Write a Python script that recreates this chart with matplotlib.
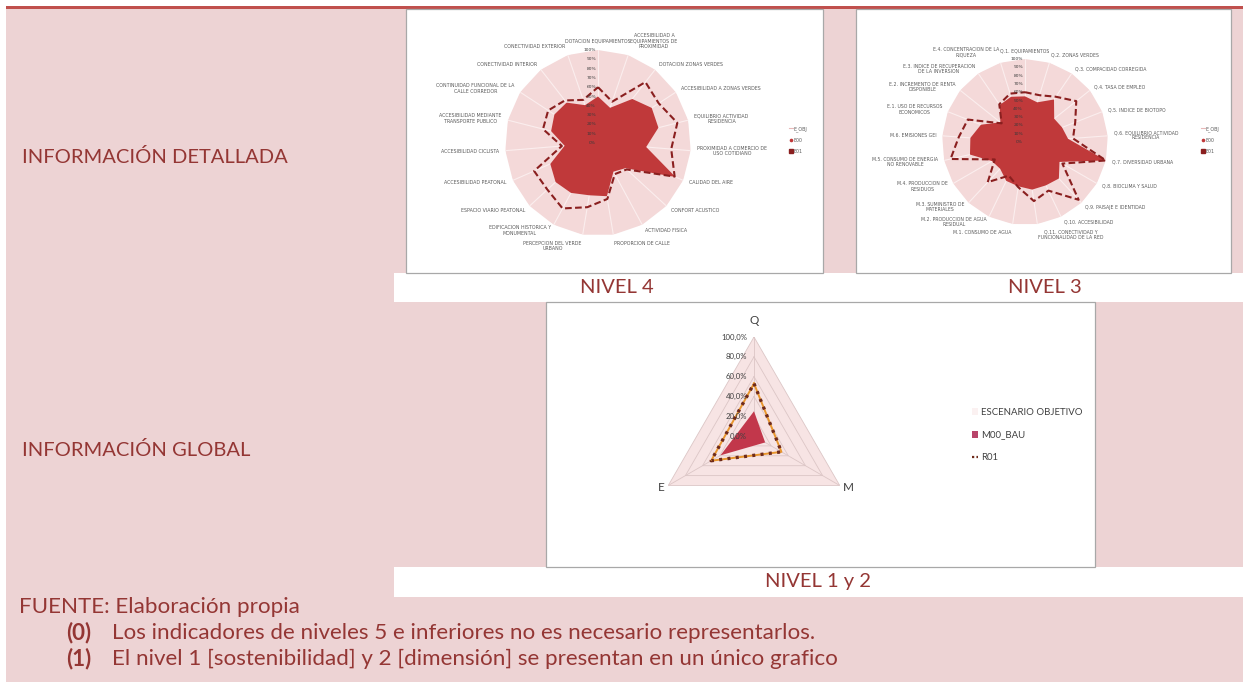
import matplotlib
matplotlib.use('Agg')
import matplotlib.pyplot as plt
import numpy as np
from matplotlib.patches import Rectangle, Patch
from matplotlib.lines import Line2D

# ---------------- data ----------------
cats_n4 = [
    "DOTACION EQUIPAMIENTOS",
    "ACCESIBILIDAD A\nEQUIPAMIENTOS DE\nPROXIMIDAD",
    "DOTACION ZONAS VERDES",
    "ACCESIBILIDAD A ZONAS VERDES",
    "EQUILIBRIO ACTIVIDAD\nRESIDENCIA",
    "PROXIMIDAD A COMERCIO DE\nUSO COTIDIANO",
    "CALIDAD DEL AIRE",
    "CONFORT ACUSTICO",
    "ACTIVIDAD FISICA",
    "PROPORCION DE CALLE",
    "PERCEPCION DEL VERDE\nURBANO",
    "EDIFICACION HISTORICA Y\nMONUMENTAL",
    "ESPACIO VIARIO PEATONAL",
    "ACCESIBILIDAD PEATONAL",
    "ACCESIBILIDAD CICLISTA",
    "ACCESIBILIDAD MEDIANTE\nTRANSPORTE PUBLICO",
    "CONTINUIDAD FUNCIONAL DE LA\nCALLE CORREDOR",
    "CONECTIVIDAD INTERIOR",
    "CONECTIVIDAD EXTERIOR",
]
obj_n4 = [100] * 19
e00_n4 = [50, 40, 60, 69, 67, 52, 91, 40, 35, 58, 57, 61, 62, 56, 36, 52, 56, 55, 43]
e01_n4 = [60, 47, 83, 78, 88, 79, 90, 42, 38, 61, 70, 80, 74, 75, 39, 61, 64, 58, 49]

cats_n3 = [
    "Q.1. EQUIPAMIENTOS",
    "Q.2. ZONAS VERDES",
    "Q.3. COMPACIDAD CORREGIDA",
    "Q.4. TASA DE EMPLEO",
    "Q.5. INDICE DE BIOTOPO",
    "Q.6. EQUILIBRIO ACTIVIDAD\nRESIDENCIA",
    "Q.7. DIVERSIDAD URBANA",
    "Q.8. BIOCLIMA Y SALUD",
    "Q.9. PAISAJE E IDENTIDAD",
    "Q.10. ACCESIBILIDAD",
    "Q.11. CONECTIVIDAD Y\nFUNCIONALIDAD DE LA RED",
    "M.1. CONSUMO DE AGUA",
    "M.2. PRODUCCION DE AGUA\nRESIDUAL",
    "M.3. SUMINISTRO DE\nMATERIALES",
    "M.4. PRODUCCION DE\nRESIDUOS",
    "M.5. CONSUMO DE ENERGIA\nNO RENOVABLE",
    "M.6. EMISIONES GEI",
    "E.1. USO DE RECURSOS\nECONOMICOS",
    "E.2. INCREMENTO DE RENTA\nDISPONIBLE",
    "E.3. INDICE DE RECUPERACION\nDE LA INVERSION",
    "E.4. CONCENTRACION DE LA\nRIQUEZA",
]
obj_n3 = [100] * 21
e00_n3 = [55, 50, 62, 45, 48, 52, 100, 48, 60, 58, 58, 54, 52, 44, 46, 68, 66, 57, 38, 54, 57]
e01_n3 = [60, 59, 66, 79, 65, 58, 100, 52, 95, 65, 72, 55, 45, 66, 42, 92, 80, 74, 36, 55, 61]

cats_g = ["Q", "M", "E"]
obj_g = [100, 100, 100]
m00_g = [25, 13, 39]
r01_g = [53, 32, 50]

radial_n = [0, 10, 20, 30, 40, 50, 60, 70, 80, 90, 100]
radial_g = [0, 20, 40, 60, 80, 100]

series_n = ["E_OBJ", "E00", "E01"]
series_g = ["ESCENARIO OBJETIVO", "M00_BAU", "R01"]

# ---------------- style ----------------
W, H, DPI = 1243, 682, 100
PINK = '#EDD3D4'
RED_LINE = '#C0504D'
TXT = '#943634'
OBJ_C = '#F4D9D9'
FILL_C = '#C0393A'
DASH_C = '#8A1F1F'
FONT = 'Lato'

fig = plt.figure(figsize=(W / DPI, H / DPI), dpi=DPI)
fig.patch.set_facecolor('white')


def rect(x0, y0, x1, y1, fc, ec='none', lw=0, z=-2):
    r = Rectangle((x0 / W, 1 - y1 / H), (x1 - x0) / W, (y1 - y0) / H,
                  transform=fig.transFigure, facecolor=fc, edgecolor=ec,
                  linewidth=lw, zorder=z)
    fig.add_artist(r)


def ftext(x, y, s, **kw):
    kw.setdefault('family', FONT)
    return fig.text(x / W, 1 - y / H, s, **kw)


def add_polar(cx, cy, R):
    ax = fig.add_axes([(cx - R) / W, 1 - (cy + R) / H, 2 * R / W, 2 * R / H],
                      projection='polar')
    ax.set_zorder(3)
    return ax


# ---------------- table background ----------------
rect(6, 8, 1243, 682, PINK, z=-4)
rect(6, 5.5, 1243, 8.5, RED_LINE, z=-3)
rect(394, 273, 1243, 302, 'white', z=-3)
rect(394, 567, 1243, 597, 'white', z=-3)
rect(406, 9, 823, 273, 'white', ec='#A8A8A8', lw=0.9, z=-2)
rect(856, 9, 1231, 273, 'white', ec='#A8A8A8', lw=0.9, z=-2)
rect(546, 302, 1095, 567, 'white', ec='#A8A8A8', lw=0.9, z=-2)


# ---------------- circular radars ----------------
def radar(ax, cats, obj, s0, s1, lab_fs):
    n = len(cats)
    th = np.arange(n) * 2 * np.pi / n
    tc = np.append(th, th[0])
    ax.set_theta_zero_location('N')
    ax.set_theta_direction(-1)
    ax.set_facecolor('none')
    ax.fill(tc, np.append(obj, obj[0]), color=OBJ_C, lw=0, zorder=1)
    ax.fill(tc, np.append(s0, s0[0]), color=FILL_C, lw=0, zorder=1.8)
    ax.plot(tc, np.append(s1, s1[0]), color=DASH_C, lw=1.5,
            ls=(0, (3.2, 1.6)), zorder=3)
    ax.set_ylim(0, 100)
    ax.set_xticks(th)
    ax.set_xticklabels([])
    ax.set_yticks(radial_n)
    ax.set_yticklabels([])
    ax.set_axisbelow('line')
    ax.xaxis.grid(True, color='#FBEEEE', lw=0.8)
    ax.yaxis.grid(False)
    ax.spines['polar'].set_visible(False)
    ax.tick_params(length=0)
    for v in radial_n:
        ax.annotate(f"{v}%", xy=(0, v), xytext=(-1.5, 0),
                    textcoords='offset points', ha='right', va='center',
                    fontsize=3.2, color='#3A3A3A', zorder=4)
    for t, c in zip(th, cats):
        s, co = np.sin(t), np.cos(t)
        ha = 'left' if s > 0.12 else ('right' if s < -0.12 else 'center')
        va = 'bottom' if co > 0.93 else ('top' if co < -0.93 else 'center')
        ax.text(t, 107, c, ha=ha, va=va, fontsize=lab_fs, color='#5A5A5A',
                multialignment='center', linespacing=1.05)


ax4 = add_polar(598, 143, 93)
radar(ax4, cats_n4, obj_n4, e00_n4, e01_n4, 3.4)
ax3 = add_polar(1025, 142, 83)
radar(ax3, cats_n3, obj_n3, e00_n3, e01_n3, 3.3)


def small_legend(x, y):
    hs = [Line2D([], [], color='#E8B8B8', lw=0.8),
          Line2D([], [], color=FILL_C, marker='o', ms=1.6, lw=0),
          Line2D([], [], color=DASH_C, marker='s', ms=2.2, lw=0)]
    fig.legend(hs, series_n, loc='center left',
               bbox_to_anchor=(x / W, 1 - y / H), frameon=False,
               fontsize=3.4, handlelength=0.7, handletextpad=0.3,
               labelspacing=1.3, labelcolor='#5A5A5A')


small_legend(785, 140)
small_legend(1197, 140)

# ---------------- triangular radar (global) ----------------
axg = add_polar(754, 436, 99)
n = 3
th = np.arange(n) * 2 * np.pi / n
tc = np.append(th, th[0])
axg.set_theta_zero_location('N')
axg.set_theta_direction(-1)
axg.set_facecolor('none')
axg.set_ylim(0, 100)
axg.grid(False)
axg.spines['polar'].set_visible(False)
axg.set_xticks([])
axg.set_yticks([])
axg.fill(tc, np.append(obj_g, obj_g[0]), color='#F7E4E4', lw=0, zorder=1)
for r in radial_g[1:]:
    axg.plot(tc, [r] * 4, color='#DCC6C6', lw=0.6, zorder=1.2)
for t in th:
    axg.plot([t, t], [0, 100], color='#DCC6C6', lw=0.6, zorder=1.2)
axg.fill(tc, np.append(m00_g, m00_g[0]), color='#C2374B', lw=0, zorder=2)
r01c = np.append(r01_g, r01_g[0])
axg.plot(tc, r01c, color='#E8962E', lw=1.4, zorder=3)
axg.plot(tc, r01c, color='#6E2A1A', lw=2.4, ls=(0, (0.9, 1.6)), zorder=3.1)
for v in radial_g:
    axg.annotate(f"{v},0%", xy=(0, v), xytext=(-5, 0),
                 textcoords='offset points', ha='right', va='center',
                 fontsize=5.6, color='#404040', family=FONT)
axg.text(0, 111, cats_g[0], ha='center', va='bottom', fontsize=8.5,
         color='#404040', family=FONT)
axg.text(th[1], 104, cats_g[1], ha='left', va='center', fontsize=8.5,
         color='#404040', family=FONT)
axg.text(th[2], 104, cats_g[2], ha='right', va='center', fontsize=8.5,
         color='#404040', family=FONT)

hs = [Patch(fc='#FBF1F1', ec='none'), Patch(fc='#B8456A', ec='none'),
      Line2D([], [], color='#6E2A1A', lw=1.6, ls=(0, (1, 1)))]
fig.legend(hs, series_g, loc='center left', bbox_to_anchor=(963 / W, 1 - 435 / H),
           frameon=False, handlelength=0.7, handleheight=0.7,
           handletextpad=0.3, labelspacing=1.45, labelcolor='#404040',
           prop={'family': FONT, 'size': 6.9})

# ---------------- texts ----------------
FS = 14.5
FS2 = 16.1
ftext(22, 157, "INFORMACIÓN DETALLADA", ha='left', va='center', color=TXT, fontsize=FS)
ftext(22, 450, "INFORMACIÓN GLOBAL", ha='left', va='center', color=TXT, fontsize=FS)
ftext(617, 287, "NIVEL 4", ha='center', va='center', color=TXT, fontsize=FS)
ftext(1045, 287, "NIVEL 3", ha='center', va='center', color=TXT, fontsize=FS)
ftext(818, 581, "NIVEL 1 y 2", ha='center', va='center', color=TXT, fontsize=FS)
ftext(19, 607, "FUENTE: Elaboración propia", ha='left', va='center', color=TXT, fontsize=FS2)
ftext(66, 633, "(0)", ha='left', va='center', color=TXT, fontsize=FS2, weight='bold')
ftext(112, 633, "Los indicadores de niveles 5 e inferiores no es necesario representarlos.",
      ha='left', va='center', color=TXT, fontsize=FS2)
ftext(66, 659, "(1)", ha='left', va='center', color=TXT, fontsize=FS2, weight='bold')
ftext(112, 659, "El nivel 1 [sostenibilidad] y 2 [dimensión] se presentan en un único grafico",
      ha='left', va='center', color=TXT, fontsize=FS2)

fig.savefig('out.png', dpi=DPI, facecolor='white')
